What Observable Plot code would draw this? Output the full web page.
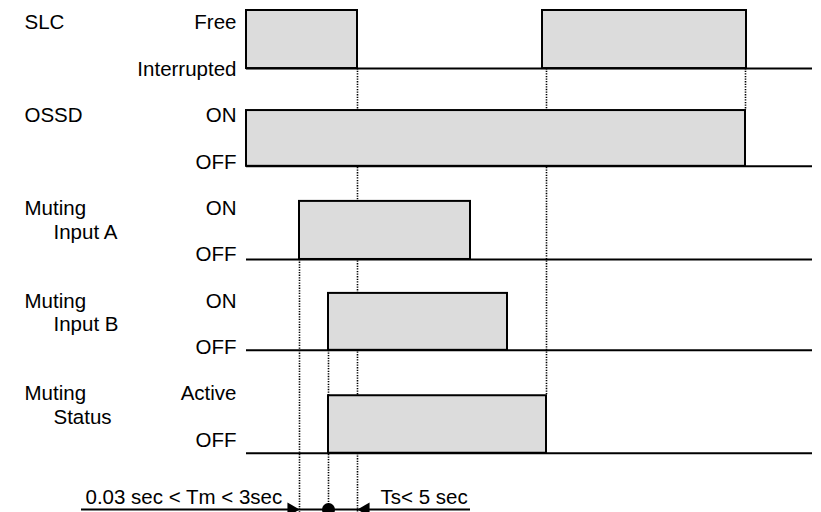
<!DOCTYPE html>
<html>
<head>
<meta charset="utf-8">
<script src="https://cdn.jsdelivr.net/npm/d3@7"></script>
<script src="https://cdn.jsdelivr.net/npm/@observablehq/plot@0.6"></script>
<style>
  html, body { margin: 0; padding: 0; background: #fff; }
  #chart svg { display: block; }
</style>
</head>
<body>
<div id="chart"></div>
<script>
// ---- Signals (lanes) ----
const signalNames    = ["SLC", "OSSD", "Muting", "Muting", "Muting"];
const signalSubNames = ["", "", "Input A", "Input B", "Status"];
const highStates     = ["Free", "ON", "ON", "ON", "Active"];
const lowStates      = ["Interrupted", "OFF", "OFF", "OFF", "OFF"];
// level positions of each lane (high level / low level), in lane units
const laneTop  = [0, 1.74, 3.32, 4.92, 6.7];
const laneBase = [1.01, 2.71, 4.33, 5.91, 7.7];
const highLabelY = [0.2, 1.83, 3.44, 5.06, 6.66];
const lowLabelY  = [1.02, 2.64, 4.24, 5.86, 7.48];
const subLabelY  = [null, null, 3.86, 5.46, 7.08];

// ---- Time axis (arbitrary time units) ----
const timeDomain = [0, 566];
// high periods per signal: [start, end]
const slcHigh     = [[0, 111], [296, 500]];
const ossdHigh    = [[0, 499]];
const inputAHigh  = [[53, 224]];
const inputBHigh  = [[82, 261]];
const statusHigh  = [[82, 300]];

// ---- Dotted reference lines ----
const markerTimes    = [53, 82, 111, 300, 499];
const markerFromLane = [2, 3, 0, 0, 0];
const markerToLane   = [null, null, null, 4, 1]; // null = to bottom

// ---- Timing annotation ----
const tmArrow = [-165, 53];
const tsArrow = [224, 111];
const dotTime = 82;
const annotationY = 8.68;
const tmLabel = "0.03 sec < Tm < 3sec";
const tsLabel = "Ts< 5 sec";
const tmLabelPos = [-161, 8.46];
const tsLabelPos = [134, 8.46];
const labelNameX = -222, labelSubX = -193, labelStateX = -10;
const yBottom = 8.9;

// build tables
const highSets = [slcHigh, ossdHigh, inputAHigh, inputBHigh, statusHigh];
const pulses = highSets.flatMap((set, lane) => set.map(([s, e]) => ({lane, s, e, top: laneTop[lane], base: laneBase[lane]})));
const lanes = signalNames.map((n, i) => ({i, name: n, sub: signalSubNames[i], hi: highStates[i], lo: lowStates[i],
  top: laneTop[i], base: laneBase[i], hiY: highLabelY[i], loY: lowLabelY[i], subY: subLabelY[i]}));
const markers = markerTimes.map((t, i) => ({t, y1: laneBase[markerFromLane[i]],
  y2: markerToLane[i] == null ? yBottom : laneTop[markerToLane[i]]}));

const font = "Liberation Sans, Arial, Helvetica, sans-serif";
const fs = 20.5;

const chart = Plot.plot({
  width: 821,
  height: 512,
  margin: 0,
  style: {fontFamily: font, background: "#fff"},
  x: {domain: timeDomain, range: [246, 812], axis: null},
  y: {domain: [0, yBottom], range: [10, 10 + yBottom * 57.5], axis: null},
  marks: [
    // dotted guide lines
    Plot.ruleX(markers, {x: "t", y1: "y1", y2: "y2", stroke: "#000", strokeWidth: 1.6, strokeDasharray: "1.3,1.3"}),
    // pulses
    Plot.rect(pulses, {x1: "s", x2: "e", y1: "top", y2: "base", fill: "#dcdcdc", stroke: "#000", strokeWidth: 2}),
    // baselines
    Plot.ruleY(lanes, {y: "base", x1: timeDomain[0], x2: timeDomain[1], stroke: "#000", strokeWidth: 2}),
    // labels
    Plot.text(lanes, {x: labelNameX, y: "hiY", text: "name", textAnchor: "start", fontSize: fs, fill: "#000"}),
    Plot.text(lanes.filter(d => d.sub), {x: labelSubX, y: "subY", text: "sub", textAnchor: "start", fontSize: fs, fill: "#000"}),
    Plot.text(lanes, {x: labelStateX, y: "hiY", text: "hi", textAnchor: "end", fontSize: fs, fill: "#000"}),
    Plot.text(lanes, {x: labelStateX, y: "loY", text: "lo", textAnchor: "end", fontSize: fs, fill: "#000"}),
    // annotation
    Plot.ruleY([annotationY], {x1: tmArrow[0], x2: tsArrow[0], stroke: "#000", strokeWidth: 2}),
    Plot.dot([tmArrow[1]], {x: d => d, y: annotationY, symbol: "triangle", r: 5.2, rotate: 90, dx: -8, fill: "#000", stroke: "none"}),
    Plot.dot([tsArrow[1]], {x: d => d, y: annotationY, symbol: "triangle", r: 5.2, rotate: -90, dx: 8, fill: "#000", stroke: "none"}),
    Plot.dot([dotTime], {x: d => d, y: annotationY, r: 6.5, fill: "#000", stroke: "none"}),
    Plot.text([tmLabel], {x: tmLabelPos[0], y: tmLabelPos[1], text: d => d, textAnchor: "start", fontSize: fs, fill: "#000"}),
    Plot.text([tsLabel], {x: tsLabelPos[0], y: tsLabelPos[1], text: d => d, textAnchor: "start", fontSize: fs, fill: "#000"})
  ]
});
document.getElementById("chart").appendChild(chart);
</script>
</body>
</html>
